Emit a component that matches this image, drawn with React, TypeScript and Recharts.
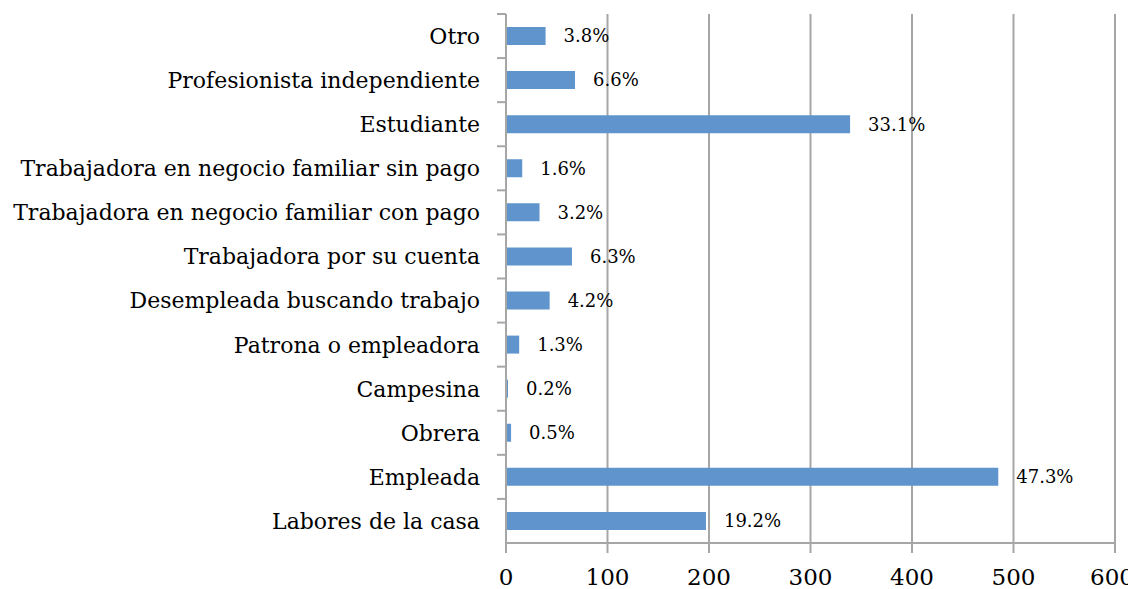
import React from "react";
import { BarChart, Bar, XAxis, YAxis, CartesianGrid, LabelList } from "recharts";

const categories = [
  "Otro",
  "Profesionista independiente",
  "Estudiante",
  "Trabajadora en negocio familiar sin pago",
  "Trabajadora en negocio familiar con pago",
  "Trabajadora por su cuenta",
  "Desempleada buscando trabajo",
  "Patrona o empleadora",
  "Campesina",
  "Obrera",
  "Empleada",
  "Labores de la casa",
];
const counts = [39, 68, 339, 16, 33, 65, 43, 13, 2, 5, 485, 197];
const percentLabels = ["3.8%", "6.6%", "33.1%", "1.6%", "3.2%", "6.3%", "4.2%", "1.3%", "0.2%", "0.5%", "47.3%", "19.2%"];
const xTicks = [0, 100, 200, 300, 400, 500, 600];

const data = categories.map((c, i) => ({ name: c, value: counts[i], pct: percentLabels[i] }));

const W = 1128;
const H = 581;
const MARGIN = { top: 6, right: 21, bottom: 6, left: 0 };
const XAXIS_H = 40;
const BAND = (H - MARGIN.top - MARGIN.bottom - XAXIS_H) / categories.length;
const FONT = "'DejaVu Serif', serif";
const GRID = "#a6a6a6";

const YTick = (props: any) => {
  const { x, y, payload } = props;
  const axisX = x + 26;
  return (
    <g>
      <text x={x} y={y} dy="0.36em" textAnchor="end" fontFamily={FONT} fontSize={22} fill="#000">
        {payload.value}
      </text>
      <line x1={axisX - 9} x2={axisX} y1={y - BAND / 2} y2={y - BAND / 2} stroke={GRID} strokeWidth={2} />
    </g>
  );
};

const XTick = (props: any) => {
  const { x, y, payload, index } = props;
  const shift = index === xTicks.length - 1 ? -3 : 0;
  return (
    <text x={x + shift} y={y} dy="0.71em" textAnchor="middle" fontFamily={FONT} fontSize={23} fill="#000">
      {payload.value}
    </text>
  );
};

export default function App() {
  return (
    <BarChart width={W} height={H} data={data} layout="vertical" margin={MARGIN} barCategoryGap="20%">
      <CartesianGrid horizontal={false} stroke={GRID} strokeWidth={2} />
      <XAxis
        type="number"
        domain={[0, 600]}
        ticks={xTicks}
        height={XAXIS_H}
        tickSize={10}
        tickMargin={16}
        axisLine={{ stroke: GRID, strokeWidth: 2 }}
        tickLine={{ stroke: GRID, strokeWidth: 2 }}
        tick={<XTick />}
        interval={0}
      />
      <YAxis
        type="category"
        dataKey="name"
        width={498}
        tickSize={9}
        tickMargin={17}
        tickLine={false}
        axisLine={{ stroke: GRID, strokeWidth: 2 }}
        tick={<YTick />}
        interval={0}
      />
      <Bar dataKey="value" fill="#5f95cc" barSize={18} isAnimationActive={false}>
        <LabelList dataKey="pct" position="right" offset={18} fontFamily={FONT} fontSize={18} fill="#000" />
      </Bar>
    </BarChart>
  );
}
